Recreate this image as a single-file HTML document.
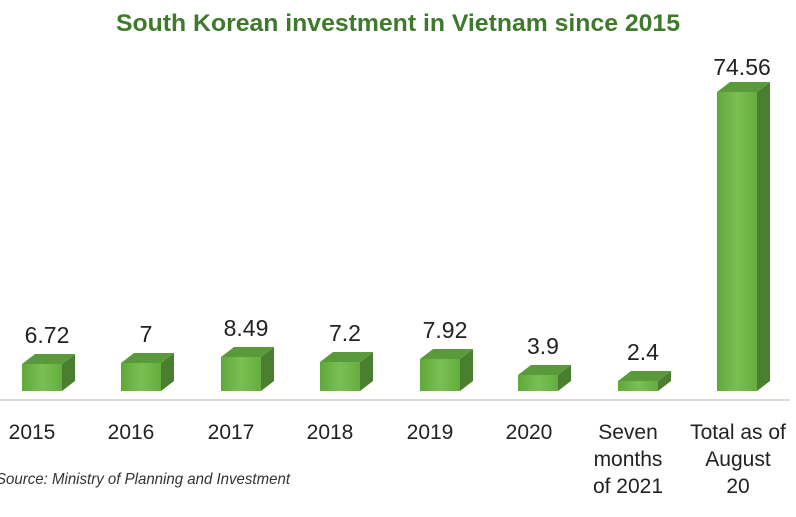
<!DOCTYPE html>
<html><head><meta charset="utf-8"><style>
body{margin:0;background:#fff;width:796px;height:512px;overflow:hidden}
</style></head><body>
<svg width="796" height="512" xmlns="http://www.w3.org/2000/svg" font-family="Liberation Sans, sans-serif">
<defs>
<linearGradient id="f" x1="0" x2="1"><stop offset="0" stop-color="#5fa83a"/><stop offset="0.5" stop-color="#7bbf52"/><stop offset="1" stop-color="#64ad3e"/></linearGradient>
</defs>
<text x="398" y="31" text-anchor="middle" font-size="24" font-weight="bold" fill="#3f7a2c" textLength="564" lengthAdjust="spacingAndGlyphs">South Korean investment in Vietnam since 2015</text>
<line x1="0" y1="400" x2="790" y2="400" stroke="#d6dde6" stroke-width="2"/>

<g>
<polygon points="62,364 75,354 75,381 62,391" fill="#4a7f30"/><polygon points="22,364 35,354 75,354 62,364" fill="#5b9a3c"/><rect x="22" y="364" width="40" height="27" fill="url(#f)"/>
<polygon points="161,363 174,353 174,381 161,391" fill="#4a7f30"/><polygon points="121,363 134,353 174,353 161,363" fill="#5b9a3c"/><rect x="121" y="363" width="40" height="28" fill="url(#f)"/>
<polygon points="261,357 274,347 274,381 261,391" fill="#4a7f30"/><polygon points="221,357 234,347 274,347 261,357" fill="#5b9a3c"/><rect x="221" y="357" width="40" height="34" fill="url(#f)"/>
<polygon points="360,362 373,352 373,381 360,391" fill="#4a7f30"/><polygon points="320,362 333,352 373,352 360,362" fill="#5b9a3c"/><rect x="320" y="362" width="40" height="29" fill="url(#f)"/>
<polygon points="460,359 473,349 473,381 460,391" fill="#4a7f30"/><polygon points="420,359 433,349 473,349 460,359" fill="#5b9a3c"/><rect x="420" y="359" width="40" height="32" fill="url(#f)"/>
<polygon points="558,375 571,365 571,381 558,391" fill="#4a7f30"/><polygon points="518,375 531,365 571,365 558,375" fill="#5b9a3c"/><rect x="518" y="375" width="40" height="16" fill="url(#f)"/>
<polygon points="658,381 671,371 671,381 658,391" fill="#4a7f30"/><polygon points="618,381 631,371 671,371 658,381" fill="#5b9a3c"/><rect x="618" y="381" width="40" height="10" fill="url(#f)"/>
<polygon points="757,92 770,82 770,381 757,391" fill="#4a7f30"/><polygon points="717,92 730,82 770,82 757,92" fill="#5b9a3c"/><rect x="717" y="92" width="40" height="299" fill="url(#f)"/>
</g>

<g font-size="23" fill="#222" text-anchor="middle">
<text x="47" y="343">6.72</text><text x="146" y="342">7</text><text x="246" y="336">8.49</text><text x="345" y="341">7.2</text><text x="445" y="338">7.92</text><text x="543" y="354">3.9</text><text x="643" y="360">2.4</text><text x="742" y="75">74.56</text>
</g>

<g font-size="21" fill="#222" text-anchor="middle">
<text x="32" y="439">2015</text><text x="131" y="439">2016</text><text x="231" y="439">2017</text><text x="330" y="439">2018</text><text x="430" y="439">2019</text><text x="529" y="439">2020</text>
<text x="628" y="439">Seven</text><text x="628" y="466">months</text><text x="628" y="493">of 2021</text>
<text x="738" y="439">Total as of</text><text x="738" y="466">August</text><text x="738" y="493">20</text>
</g>
<text x="-4" y="484" font-size="16" font-style="italic" fill="#333" textLength="294" lengthAdjust="spacingAndGlyphs">Source: Ministry of Planning and Investment</text>
</svg>
</body></html>
